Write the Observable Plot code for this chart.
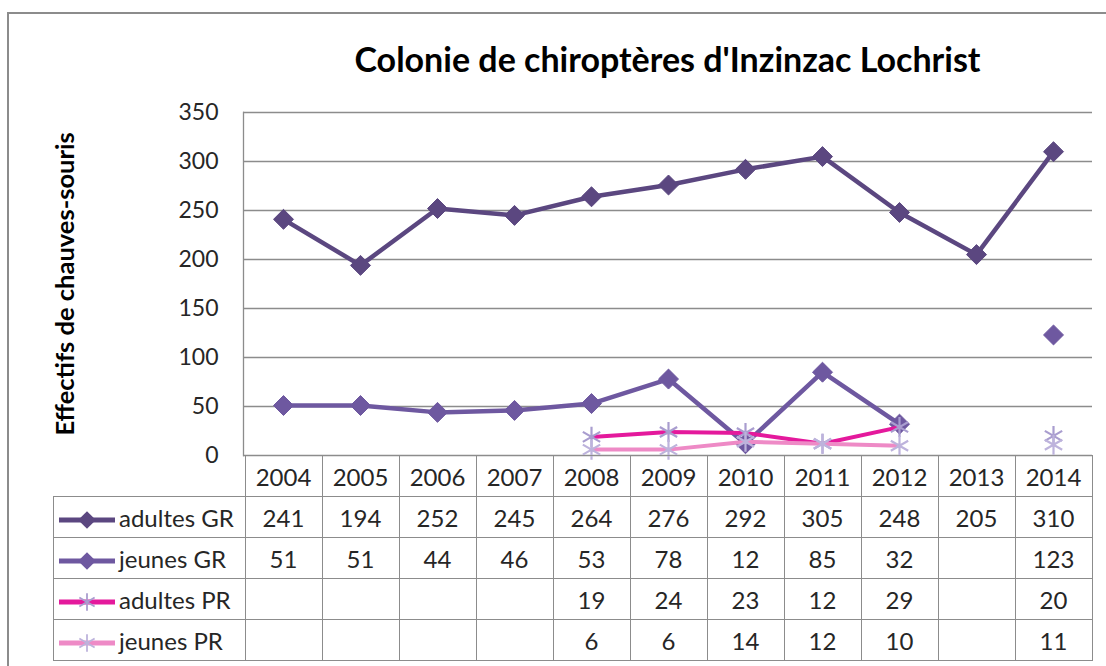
<!DOCTYPE html>
<html>
<head>
<meta charset="utf-8">
<script src="https://cdn.jsdelivr.net/npm/d3@7"></script>
<script src="https://cdn.jsdelivr.net/npm/@observablehq/plot@0.6"></script>
<style>
  html, body { margin: 0; padding: 0; background: #fff; }
  #wrap { position: relative; width: 1106px; height: 666px; overflow: hidden; font-family: Lato, "Open Sans", sans-serif; color: #262626; }
  #border { position: absolute; left: 7px; top: 12px; width: 1200px; height: 700px; border-top: 2px solid #8c8c8c; border-left: 2px solid #8c8c8c; }
  #title { position: absolute; left: 243px; width: 849px; top: 38px; text-align: center; font-weight: bold; font-size: 34px; color: #000; white-space: nowrap; }
  #ylabel { position: absolute; left: 64px; top: 284px; transform: translate(-50%, -50%) rotate(-90deg); font-weight: bold; font-size: 25.5px; color: #000; white-space: nowrap; }
  #chart { position: absolute; left: 0; top: 0; }
  #tbl { position: absolute; border-collapse: collapse; table-layout: fixed; font-size: 24px; }
  #tbl td { border: 1px solid #8c8c8c; text-align: center; padding: 0; height: 40px; color: #262626; overflow: hidden; }
  #tbl td.legend { text-align: left; white-space: nowrap; padding-left: 4px; }
  #tbl td.blank { border-top: none; border-left: none; }
  #tbl svg { vertical-align: middle; margin-right: 3px; }
</style>
</head>
<body>
<div id="wrap">
  <div id="border"></div>
  <div id="title"></div>
  <div id="ylabel"></div>
  <div id="chart"></div>
</div>
<script>
const title = "Colonie de chiroptères d'Inzinzac Lochrist";
const yTitle = "Effectifs de chauves-souris";
const years = ["2004","2005","2006","2007","2008","2009","2010","2011","2012","2013","2014"];
const seriesNames = ["adultes GR","jeunes GR","adultes PR","jeunes PR"];
const adultesGR = [241,194,252,245,264,276,292,305,248,205,310];
const jeunesGR  = [51,51,44,46,53,78,12,85,32,null,123];
const adultesPR = [null,null,null,null,19,24,23,12,29,null,20];
const jeunesPR  = [null,null,null,null,6,6,14,12,10,null,11];
const yTicks = [0,50,100,150,200,250,300,350];

const seriesValues = [adultesGR, jeunesGR, adultesPR, jeunesPR];
const lineColors = ["#5b4780","#6e58a0","#e4199c","#ee8ac6"];
const markerFill = ["#5b4780","#6e58a0","#a99dcf","#bdb3dc"];
const markerSymbols = ["diamond2","diamond2","asterisk","asterisk"];

const W = 1106, H = 666;
const mL = 243, mR = 14, mT = 112, mB = 211;

const data = [];
seriesNames.forEach((s, i) => {
  years.forEach((y, j) => data.push({series: s, year: y, value: seriesValues[i][j]}));
});

document.getElementById("title").textContent = title;
document.getElementById("ylabel").textContent = yTitle;

const marks = [
  Plot.ruleY(yTicks, {stroke: "#8c8c8c", strokeWidth: 1.3}),
  Plot.frame({anchor: "left", stroke: "#8c8c8c", strokeWidth: 1.3}),
  Plot.axisY(yTicks, {tickSize: 0, tickPadding: 25, fontSize: 23, fill: "#262626", label: null})
];
seriesNames.forEach((s, i) => {
  const d = data.filter(r => r.series === s);
  marks.push(Plot.line(d, {x: "year", y: "value", stroke: lineColors[i], strokeWidth: i < 2 ? 4.5 : 4, curve: "linear"}));
  if (i < 2) {
    marks.push(Plot.dot(d.filter(r => r.value != null), {x: "year", y: "value", symbol: markerSymbols[i], r: 9, fill: markerFill[i], stroke: markerFill[i], strokeWidth: 1}));
  } else {
    marks.push(Plot.dot(d.filter(r => r.value != null), {x: "year", y: "value", symbol: markerSymbols[i], r: 9.5, stroke: markerFill[i], strokeWidth: 2.2}));
  }
});

const plot = Plot.plot({
  width: W, height: H,
  marginLeft: mL, marginRight: mR, marginTop: mT, marginBottom: mB,
  style: {fontFamily: "Lato, 'Open Sans', sans-serif", background: "transparent", overflow: "visible"},
  x: {type: "point", domain: years, padding: 0.5, axis: null},
  y: {domain: [0, 350], axis: null},
  marks
});
document.getElementById("chart").appendChild(plot);

// data table below the plot, aligned with the x scale
const xs = plot.scale("x");
const step = xs.apply(years[1]) - xs.apply(years[0]);
const firstLeft = xs.apply(years[0]) - step / 2;
const tableLeft = 53;
const legendW = firstLeft - tableLeft;
const ys = plot.scale("y");
const tableTop = ys.apply(0);
const table = d3.select("#wrap").append("table").attr("id", "tbl")
  .style("left", tableLeft + "px").style("top", tableTop + "px")
  .style("width", (legendW + step * years.length) + "px");
const cg = table.append("colgroup");
cg.append("col").style("width", legendW + "px");
years.forEach(() => cg.append("col").style("width", step + "px"));
const head = table.append("tr");
head.append("td").attr("class", "blank");
years.forEach(y => head.append("td").text(y));
seriesNames.forEach((s, i) => {
  const tr = table.append("tr");
  const lc = tr.append("td").attr("class", "legend");
  const sv = lc.append("svg").attr("width", 58).attr("height", 22);
  sv.append("line").attr("x1", 1).attr("x2", 57).attr("y1", 11).attr("y2", 11)
    .attr("stroke", lineColors[i]).attr("stroke-width", 5);
  if (i < 2) {
    sv.append("path").attr("transform", "translate(29,11)")
      .attr("d", d3.symbol(d3.symbolDiamond2, 200)()).attr("fill", markerFill[i]);
  } else {
    sv.append("path").attr("transform", "translate(29,11)")
      .attr("d", d3.symbol(d3.symbolAsterisk, 220)()).attr("stroke", markerFill[i]).attr("stroke-width", 1.8).attr("fill", "none");
  }
  lc.append("span").text(s);
  seriesValues[i].forEach(v => tr.append("td").text(v == null ? "" : v));
});
</script>
</body>
</html>
